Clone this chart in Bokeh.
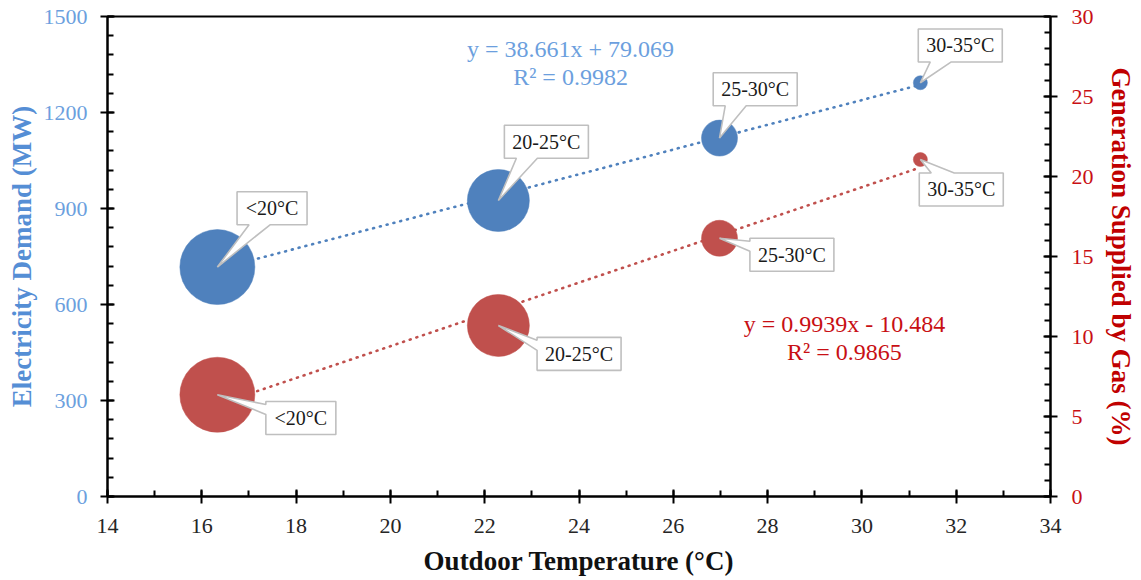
import math
from bokeh.plotting import figure
from bokeh.models import Range1d, LinearAxis, SingleIntervalTicker
from bokeh.core.properties import value
from bokeh.embed import file_html
from bokeh.resources import INLINE

# ---------------- data ----------------
temp_bins = ["<20°C", "20-25°C", "25-30°C", "30-35°C"]
avg_temp_c = [16.33, 22.29, 26.98, 31.24]
demand_mw = [717, 925, 1120, 1293]
gas_share_pct = [6.36, 10.69, 16.14, 21.06]
bubble_weight = [51.3, 35.1, 11.8, 1.8]
demand_fit = [38.661, 79.069, 0.9982]   # slope, intercept, R²
gas_fit = [0.9939, -10.484, 0.9865]

x_range_c = [14, 34]
mw_range = [0, 1500]
pct_range = [0, 30]

# ---------------- styles / layout ----------------
FONT = "Liberation Serif"
FRAME_W, FRAME_H = 943, 480
BLUE, RED = "#4F81BD", "#C0504D"
BLUE_TXT, BLUE_TITLE = "#6C9FDE", "#558ED5"
RED_TXT, RED_TITLE = "#C80F14", "#C00000"
MAX_BUBBLE_PX = 75
BOX_H = 33

# callout placement: (dx px, dy px (down), box width px, pointer side)
blue_callouts = [(54.7, -58.8, 70, "bottom"), (48.0, -58.8, 84, "bottom"),
                 (35.7, -48.8, 84, "bottom"), (39.9, -37.3, 84, "bottom")]
red_callouts = [(83.5, 23.2, 70, "left"), (80.7, 28.4, 84, "left"),
                (72.4, 16.5, 84, "left"), (40.9, 29.9, 84, "top")]

# equation placement (data units of the respective axes)
blue_eq_pos = (23.82, 1399, 1310)
red_eq_pos = (29.63, 10.79, 9.02)

SX = FRAME_W / (x_range_c[1] - x_range_c[0])
SY_MW = FRAME_H / (mw_range[1] - mw_range[0])
SY_PCT = FRAME_H / (pct_range[1] - pct_range[0])

p = figure(frame_width=FRAME_W, frame_height=FRAME_H,
           x_range=Range1d(*x_range_c), y_range=Range1d(*mw_range),
           output_backend="svg", toolbar_location=None,
           min_border_left=107, min_border_right=91, min_border_top=16, min_border_bottom=84,
           background_fill_color="white", border_fill_color="white")
p.extra_y_ranges = {"gas": Range1d(*pct_range)}
p.grid.visible = False
p.outline_line_color = "black"
p.outline_line_width = 2

right = LinearAxis(y_range_name="gas")
p.add_layout(right, "right")

xa = p.xaxis[0]
ya = p.yaxis[0]
xa.ticker = SingleIntervalTicker(interval=2, num_minor_ticks=2)
ya.ticker = SingleIntervalTicker(interval=300, num_minor_ticks=5)
right.ticker = SingleIntervalTicker(interval=5, num_minor_ticks=5)

for ax in (xa, ya, right):
    ax.axis_line_color = "black"
    ax.axis_line_width = 2
    ax.major_tick_line_color = "black"
    ax.major_tick_line_width = 2
    ax.minor_tick_line_color = "black"
    ax.minor_tick_line_width = 2
    ax.major_tick_in = 7
    ax.major_tick_out = 7
    ax.minor_tick_in = 6
    ax.minor_tick_out = 0
    ax.major_label_text_font = FONT
    ax.major_label_text_font_size = "22px"
    ax.axis_label_text_font = FONT
    ax.axis_label_text_font_size = "27px"
    ax.axis_label_text_font_style = "bold"

xa.axis_label = "Outdoor Temperature (°C)"
xa.major_label_text_color = "#262626"
xa.axis_label_text_color = "#111111"
xa.major_label_standoff = 15
xa.axis_label_standoff = 10

ya.axis_label = "Electricity Demand (MW)"
ya.major_label_text_color = BLUE_TXT
ya.axis_label_text_color = BLUE_TITLE
ya.major_label_standoff = 13
ya.axis_label_standoff = 4

right.axis_label = "Generation Supplied by Gas (%)"
right.major_label_text_color = RED_TXT
right.axis_label_text_color = RED_TITLE
right.major_label_standoff = 14
right.axis_label_standoff = 9

# ---------------- trendlines ----------------
x0, x1 = min(avg_temp_c), max(avg_temp_c)
p.line([x0, x1], [demand_fit[0] * x0 + demand_fit[1], demand_fit[0] * x1 + demand_fit[1]],
       line_color=BLUE, line_width=2.6, line_dash="1 6", line_cap="round")
p.line([x0, x1], [gas_fit[0] * x0 + gas_fit[1], gas_fit[0] * x1 + gas_fit[1]],
       line_color=RED, line_width=2.6, line_dash="1 6", line_cap="round", y_range_name="gas")

# ---------------- bubbles ----------------
wmax = max(bubble_weight)
sizes = [MAX_BUBBLE_PX * math.sqrt(w / wmax) for w in bubble_weight]
p.scatter(avg_temp_c, demand_mw, size=sizes, fill_color=BLUE, line_color=BLUE, line_width=0.5)
p.scatter(avg_temp_c, gas_share_pct, size=sizes, fill_color=RED, line_color=RED, line_width=0.5,
          y_range_name="gas")


# ---------------- callouts ----------------
def callout(cx, cy, sy, dx, dy, w, side):
    h = BOX_H
    L, R, T, B = dx - w / 2, dx + w / 2, dy - h / 2, dy + h / 2
    if side == "bottom":
        pts = [(L, T), (R, T), (R, B), (L + 33, B), (0, 0), (L + 12, B), (L, B)]
    elif side == "left":
        pts = [(L, T), (R, T), (R, B), (L, B), (L, T + 13), (0, 0), (L, T + 3)]
    else:
        pts = [(L, T), (L + 12, T), (0, 0), (L + 35, T), (R, T), (R, B), (L, B)]
    xs = [cx + px / SX for px, py in pts]
    ys = [cy - py / sy for px, py in pts]
    return xs, ys, cx + dx / SX, cy - dy / sy


for vals, cfg, sy, rname in ((demand_mw, blue_callouts, SY_MW, "default"),
                             (gas_share_pct, red_callouts, SY_PCT, "gas")):
    pxs, pys, tx, ty = [], [], [], []
    for xv, yv, (dx, dy, w, side) in zip(avg_temp_c, vals, cfg):
        a, b, c, d = callout(xv, yv, sy, dx, dy, w, side)
        pxs.append(a); pys.append(b); tx.append(c); ty.append(d)
    p.patches(pxs, pys, fill_color="white", line_color="#BFBFBF", line_width=1.6,
              y_range_name=rname)
    p.text(tx, ty, text=temp_bins, text_font=value(FONT), text_font_size="20px",
           text_color="#1A1A1A", text_align="center", text_baseline="middle",
           y_range_name=rname)


# ---------------- equations ----------------
def eq_text(fit):
    a, b, r2 = fit
    sign = "+" if b >= 0 else "-"
    return f"y = {a}x {sign} {abs(b)}", f"R² = {r2}"


l1, l2 = eq_text(demand_fit)
p.text([blue_eq_pos[0], blue_eq_pos[0]], [blue_eq_pos[1], blue_eq_pos[2]], text=[l1, l2],
       text_font=value(FONT), text_font_size="24px", text_color=BLUE_TXT,
       text_align="center", text_baseline="middle")
l1, l2 = eq_text(gas_fit)
p.text([red_eq_pos[0], red_eq_pos[0]], [red_eq_pos[1], red_eq_pos[2]], text=[l1, l2],
       text_font=value(FONT), text_font_size="24px", text_color=RED_TXT,
       text_align="center", text_baseline="middle", y_range_name="gas")

open("out.html", "w").write(file_html(p, INLINE))
